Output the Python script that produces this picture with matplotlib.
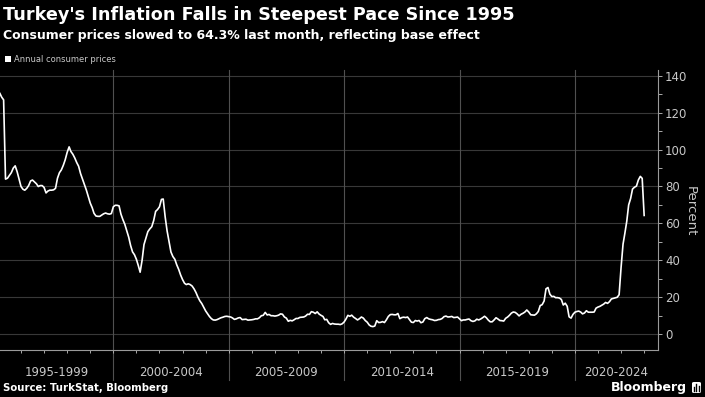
import numpy as np
import pandas as pd
import matplotlib
matplotlib.use('Agg')
import matplotlib.pyplot as plt
from matplotlib.patches import FancyBboxPatch

# annual consumer price inflation, %, monthly (Jan 1995 - Dec 2022)
cpi_1995_1999 = [
    130.5, 128.5, 127.0, 84.0, 84.5, 86.0, 87.5, 90.0, 91.2, 88.0, 84.0, 80.0,
    78.5, 78.0, 79.0, 80.5, 83.0, 83.5, 82.5, 81.5, 80.0, 80.5, 80.5, 79.5,
    76.5, 77.5, 78.0, 78.0, 78.2, 79.0, 84.5, 87.5, 89.0, 91.5, 94.5, 98.5,
    101.5, 99.0, 97.5, 95.5, 93.0, 91.0, 87.0, 84.0, 81.0, 78.0, 74.5, 71.0,
    68.5, 65.5, 64.0, 63.8, 63.8, 64.5, 65.2, 65.6, 65.2, 65.0, 65.3, 69.0,
]
cpi_2000_2004 = [
    69.8, 69.8, 69.5, 65.0, 62.0, 59.5, 56.0, 52.5, 48.0, 44.5, 43.0, 40.5,
    37.0, 33.5, 40.0, 48.5, 52.0, 55.5, 57.0, 58.2, 61.5, 66.5, 67.5, 69.0,
    73.0, 73.2, 63.5, 56.0, 50.0, 44.5, 42.0, 40.5, 37.5, 35.0, 32.0, 29.5,
    27.5, 26.8, 27.2, 26.8, 26.0, 24.5, 22.5, 20.0, 18.0, 16.5, 14.5, 12.5,
    11.0, 9.5, 8.3, 7.6, 7.5, 7.8, 8.3, 8.8, 9.1, 9.5, 9.6, 9.4,
]
cpi_2005_2009 = [
    9.2, 8.7, 7.9, 8.2, 8.7, 8.9, 7.8, 7.9, 8.0, 7.5, 7.6, 7.7,
    7.9, 8.2, 8.2, 8.8, 9.9, 10.1, 11.7, 10.3, 10.6, 9.9, 9.9, 9.7,
    9.9, 10.2, 10.9, 10.7, 9.2, 8.6, 6.9, 7.4, 7.1, 7.7, 8.4, 8.4,
    9.0, 9.1, 9.2, 9.7, 10.7, 10.6, 12.1, 11.8, 11.1, 12.0, 10.8, 10.1,
    9.5, 7.7, 7.9, 6.1, 5.2, 5.7, 5.4, 5.3, 5.3, 5.1, 5.5, 6.5,
]
cpi_2010_2014 = [
    8.2, 10.1, 9.6, 10.2, 9.1, 8.4, 7.6, 8.3, 9.2, 8.6, 7.3, 6.4,
    4.9, 4.2, 4.0, 4.3, 7.2, 6.2, 6.3, 6.7, 6.2, 7.7, 9.5, 10.5,
    10.6, 10.4, 10.4, 11.1, 8.3, 8.9, 9.1, 8.9, 9.2, 7.8, 6.4, 6.2,
    7.3, 7.0, 7.3, 6.1, 6.5, 8.3, 8.9, 8.2, 7.9, 7.7, 7.3, 7.4,
    7.8, 7.9, 8.4, 9.4, 9.7, 9.2, 9.3, 9.5, 8.9, 9.0, 9.2, 8.2,
]
cpi_2015_2019 = [
    7.2, 7.6, 7.6, 7.9, 8.1, 7.2, 6.8, 7.1, 8.0, 7.6, 8.1, 8.8,
    9.6, 8.8, 7.5, 6.6, 6.6, 7.6, 8.8, 8.1, 7.3, 7.2, 7.0, 8.5,
    9.2, 10.1, 11.3, 11.9, 11.7, 10.9, 9.8, 10.7, 11.2, 11.9, 13.0, 11.9,
    10.4, 10.3, 10.2, 10.9, 12.2, 15.4, 15.9, 17.9, 24.5, 25.2, 21.6, 20.3,
    20.4, 19.7, 19.7, 19.5, 18.7, 15.7, 16.7, 15.0, 9.3, 8.6, 10.6, 11.8,
]
cpi_2020_2022 = [
    12.2, 12.4, 11.9, 10.9, 11.4, 12.6, 11.8, 11.8, 11.8, 11.9, 14.0, 14.6,
    15.0, 15.6, 16.2, 17.1, 16.6, 17.5, 19.0, 19.3, 19.6, 19.9, 21.3, 36.1,
    48.7, 54.4, 61.1, 70.0, 73.5, 78.6, 79.6, 80.2, 83.5, 85.5, 84.4, 64.3,
]

period_labels = ['1995-1999', '2000-2004', '2005-2009', '2010-2014', '2015-2019', '2020-2024']
period_starts = [1995, 2000, 2005, 2010, 2015, 2020]

cpi = np.array(cpi_1995_1999 + cpi_2000_2004 + cpi_2005_2009
               + cpi_2010_2014 + cpi_2015_2019 + cpi_2020_2022)
dates = pd.date_range('1995-01-31', periods=len(cpi), freq='ME')
t = dates.year + dates.dayofyear / np.where(dates.is_leap_year, 366, 365)

W, H = 705, 397
x0, x1 = 1995.09, 2023.6
grid_col = '#383838'
sep_col = '#505050'
txt_col = '#c8c8c8'

fig = plt.figure(figsize=(W / 100, H / 100), dpi=100, facecolor='black')
ax = fig.add_axes([0, 1 - 350 / H, 658 / W, 280 / H])
ax.set_facecolor('black')

# horizontal grid
for v in range(0, 141, 20):
    ax.axhline(v, color=grid_col, lw=0.8, zorder=0)

# 5 year separators, running down into the label strip
xt = ax.get_xaxis_transform()
for s in period_starts[1:]:
    ax.plot([s, s], [1, -0.107], transform=xt, color=sep_col, lw=0.8,
            clip_on=False, zorder=0)

ax.plot(t, cpi, color='white', lw=1.2, zorder=3)

ax.set_xlim(x0, x1)
ax.set_ylim(-8.7, 143.2)

# period labels centred in the visible part of each band
for lab, s in zip(period_labels, period_starts):
    c = (max(s, x0) + min(s + 5, x1)) / 2
    ax.text(c, -0.079, lab, transform=xt, ha='center', va='center',
            color=txt_col, fontsize=8.5)

ax.yaxis.tick_right()
ax.set_yticks(range(0, 141, 20))
ax.set_yticks(range(10, 140, 20), minor=True)
ax.tick_params(axis='y', which='both', colors='#aaaaaa', length=3, width=0.7,
               labelsize=8.5, labelcolor=txt_col, pad=2)
ax.set_xticks([])
ax.set_xticks(range(1996, 2024), minor=True)
ax.tick_params(axis='x', which='minor', length=2.5, width=0.7, colors='#aaaaaa',
               labelbottom=False)

for sp in ['top', 'left']:
    ax.spines[sp].set_visible(False)
for sp in ['right', 'bottom']:
    ax.spines[sp].set_color('#9a9a9a')
    ax.spines[sp].set_linewidth(0.8)

fig.text(690 / W, 1 - 211 / H, 'Percent', rotation=-90, ha='center', va='center',
         color=txt_col, fontsize=9.5)

# titles and legend
fig.text(3 / W, 1 - 15 / H, "Turkey's Inflation Falls in Steepest Pace Since 1995",
         color='white', fontsize=12.7, fontweight='bold', va='center')
fig.text(3 / W, 1 - 36 / H, 'Consumer prices slowed to 64.3% last month, reflecting base effect',
         color='white', fontsize=9.0, fontweight='bold', va='center')
fig.patches.append(plt.Rectangle((5 / W, 1 - 62 / H), 6 / W, 6 / H, transform=fig.transFigure,
                                 facecolor='white', edgecolor='none'))
fig.text(14 / W, 1 - 59 / H, 'Annual consumer prices', color=txt_col, fontsize=6.0,
         va='center')

# footer
fig.text(3 / W, 1 - 388 / H, 'Source: TurkStat, Bloomberg', color='white', fontsize=7.3,
         fontweight='bold', va='center')
fig.text(687 / W, 1 - 387 / H, 'Bloomberg', color='white', fontsize=9.0,
         fontweight='bold', va='center', ha='right')
fig.patches.append(FancyBboxPatch((692 / W, 1 - 393 / H), 9 / W, 11 / H,
                                  boxstyle='round,pad=0,rounding_size=0.003',
                                  transform=fig.transFigure, facecolor='white',
                                  edgecolor='none'))
for i, hgt in enumerate([4, 7, 5]):
    bx = (694 + i * 2.3) / W
    fig.lines.append(plt.Line2D([bx, bx], [1 - 391 / H, 1 - (391 - hgt) / H],
                                transform=fig.transFigure, color='black', lw=1.0))

fig.savefig('out.png', dpi=100, facecolor='black')
